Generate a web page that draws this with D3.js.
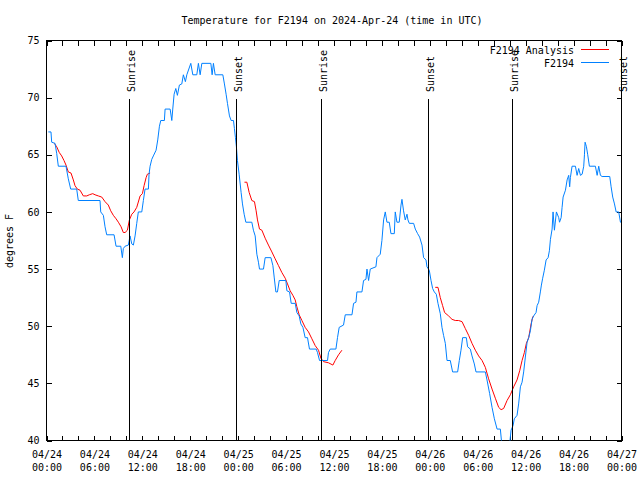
<!DOCTYPE html>
<html><head><meta charset="utf-8">
<script src="https://cdn.jsdelivr.net/npm/d3@7"></script>
<style>
html,body{margin:0;padding:0;background:#fff;}
svg{display:block;}
text{font-family:"DejaVu Sans Mono","Liberation Mono",monospace;font-size:10px;fill:#000;}
</style>
</head><body><svg id="c" width="640" height="480"></svg>
<script>
// ---- data (hours since 2024-04-24 00:00 UTC) ----
const startUTC = Date.UTC(2024, 3, 24, 0, 0);
const titleText = "Temperature for F2194 on 2024-Apr-24 (time in UTC)";
const yLabel = "degrees F";
const seriesNames = ["F2194 Analysis", "F2194"];
const seriesColors = ["#ff0000", "#0080ff"];
const yTicks = [40, 45, 50, 55, 60, 65, 70, 75];

const obsHours = [0.23,0.56,0.65,1.07,1.28,1.48,2.44,2.73,3.03,3.78,3.98,6.70,6.79,7.12,7.33,7.54,8.46,8.71,9.30,9.50,9.62,9.84,10.25,10.46,10.68,10.88,11.09,11.30,11.50,11.93,12.13,12.34,12.76,12.84,12.97,13.18,13.38,13.72,13.93,14.14,14.31,14.76,14.85,15.48,15.69,15.81,15.98,16.19,16.39,16.64,16.94,17.14,17.39,17.57,18.07,18.32,18.82,19.02,19.24,19.45,20.58,20.74,20.90,21.12,22.08,22.28,22.49,22.66,22.91,23.12,23.41,23.53,23.66,23.78,23.91,24.12,24.37,24.54,24.75,24.96,25.71,25.91,26.13,26.34,26.54,26.67,27.17,27.38,28.10,28.35,28.51,28.72,28.92,29.14,29.97,30.10,30.43,30.64,31.14,31.35,31.64,31.85,32.11,32.39,32.68,32.93,33.77,33.93,34.19,35.19,35.31,35.53,36.24,36.44,36.65,37.19,37.41,38.25,38.45,38.75,38.87,39.50,39.70,40.00,40.13,40.33,40.54,41.25,41.38,41.79,42.00,42.21,42.42,42.63,42.92,43.13,43.55,43.67,43.88,44.17,44.39,44.51,44.71,44.92,45.14,45.26,45.43,45.97,46.18,46.47,46.72,47.02,47.22,47.52,47.64,47.93,48.15,48.35,48.56,48.81,49.02,49.31,49.52,49.72,49.94,50.15,50.56,50.85,51.48,51.69,51.90,52.11,52.57,52.73,53.07,53.28,53.57,53.78,54.95,55.16,55.49,55.79,56.08,56.42,56.83,57.10,57.90,58.08,58.17,58.42,58.58,58.92,59.12,59.34,59.55,59.75,59.96,60.18,60.38,60.59,60.80,61.00,61.30,61.43,61.63,61.84,61.97,62.13,62.34,62.56,62.81,62.97,63.10,63.31,63.43,63.60,63.85,64.14,64.24,64.44,64.56,64.69,64.98,65.19,65.39,65.51,65.60,65.81,66.23,66.44,66.64,66.86,67.07,67.27,67.36,67.44,67.61,67.77,67.98,68.73,68.95,69.15,69.36,69.57,70.53,70.70,70.90,71.12,71.33,71.65,71.87,71.99];
const obsTemps = [67.0,67.0,66.1,66.0,65.1,64.0,64.0,62.9,62.0,62.0,61.0,61.0,60.0,59.7,58.7,58.0,58.0,57.0,57.0,56.0,56.8,57.0,57.1,57.9,57.2,57.1,57.9,59.0,60.0,60.0,61.0,62.0,62.0,63.3,64.0,64.6,64.9,65.4,66.3,67.5,68.0,68.0,69.0,69.0,68.0,69.0,70.3,70.8,70.2,71.1,71.2,72.0,71.4,72.0,73.0,72.0,72.0,73.0,72.0,73.0,73.0,72.0,73.0,72.0,72.0,71.2,70.3,69.5,68.4,68.0,68.0,67.3,66.5,65.7,64.5,63.3,61.7,60.7,59.8,59.1,59.1,58.4,57.9,56.3,55.6,55.0,55.0,56.0,56.0,55.3,54.3,53.0,53.0,54.0,54.0,53.1,53.0,52.0,52.0,51.2,50.9,50.2,49.9,49.0,49.0,48.0,48.0,47.7,47.0,47.0,47.7,48.0,48.0,49.0,49.9,50.1,51.0,51.0,52.0,52.1,53.0,53.0,54.0,54.1,55.0,54.0,55.0,55.2,56.0,56.3,57.5,59.3,60.0,59.1,59.1,58.1,58.1,60.0,59.1,59.1,60.6,61.1,60.1,59.3,59.8,59.3,59.0,59.0,58.5,58.1,57.8,57.1,56.0,55.8,55.2,54.9,54.0,53.3,53.0,52.8,52.0,51.1,49.9,49.2,48.5,47.0,47.0,46.0,46.0,47.0,47.9,49.0,49.0,48.2,48.0,47.4,46.7,46.0,46.0,45.3,44.1,42.9,41.9,41.0,41.0,39.0,39.0,40.3,40.9,41.3,41.9,42.2,43.2,44.7,45.1,46.0,47.3,48.6,49.0,49.6,50.6,50.9,51.2,51.8,52.1,53.0,53.6,54.2,54.9,55.8,56.0,56.6,57.6,58.5,60.0,58.4,60.0,59.5,59.1,59.5,60.4,61.3,61.9,62.8,63.2,62.2,63.0,64.0,64.0,63.2,63.8,63.2,63.3,64.0,65.0,66.1,65.7,65.0,64.0,64.0,63.2,64.0,63.2,63.1,63.1,62.2,61.3,60.7,60.0,60.0,59.1,59.1];

const anaHours1 = [0.98,1.28,1.60,1.90,2.19,2.44,2.73,3.07,3.36,3.57,3.86,4.20,4.61,5.04,5.36,5.79,6.08,6.49,6.92,7.33,7.74,8.04,8.37,8.71,9.00,9.34,9.62,9.84,10.13,10.38,10.68,10.96,11.30,11.72,12.01,12.22,12.47,12.63,12.97];
const anaTemps1 = [66.0,65.7,65.2,64.9,64.5,64.1,63.5,63.4,62.8,62.3,62.0,61.9,61.4,61.4,61.5,61.6,61.5,61.4,61.3,60.9,60.6,60.1,59.7,59.4,59.1,58.7,58.2,58.2,58.4,59.3,59.8,60.0,60.4,61.4,61.6,62.3,63.0,63.3,63.4];
const anaHours2 = [24.79,25.09,25.38,25.71,26.04,26.25,26.42,26.67,26.97,27.38,27.79,28.22,28.63,29.05,29.47,29.89,30.18,30.51,30.85,31.14,31.35,31.64,31.98,32.39,32.81,33.23,33.65,34.06,34.36,34.69,35.31,35.86,36.15,36.57,36.99];
const anaTemps2 = [62.6,62.6,61.7,61.0,60.9,60.1,59.3,58.5,58.4,57.7,57.1,56.5,55.9,55.3,54.7,54.2,53.7,53.1,52.7,52.3,51.7,51.0,50.5,49.9,49.5,48.9,48.3,47.9,47.2,46.9,46.8,46.6,47.0,47.5,47.9];
const anaHours3 = [48.68,49.02,49.31,49.60,49.85,50.35,50.78,51.19,51.60,52.03,52.44,52.86,53.28,53.70,54.11,54.54,54.95,55.36,55.79,56.20,56.62,56.92,57.24,57.67,58.08,58.50,58.92,59.25,59.55,59.84,60.09,60.38,60.68,60.88,61.00];
const anaTemps3 = [53.4,53.4,52.5,51.8,51.2,50.9,50.6,50.5,50.5,50.4,49.8,49.2,48.5,47.9,47.4,47.0,46.4,45.4,44.5,43.7,42.9,42.7,42.8,43.5,44.0,44.7,45.3,46.1,47.0,47.7,48.5,49.0,50.2,50.8,50.9];

const sunHours = [10.38, 23.78, 34.44, 47.85, 58.37, 71.97];
const sunLabels = ["Sunrise", "Sunset", "Sunrise", "Sunset", "Sunrise", "Sunset"];

// ---- drawing ----
const toDate = h => new Date(startUTC + h * 3600e3);
const zip = (hs, ts) => hs.map((h, i) => [toDate(h), ts[i]]);

const svg = d3.select("#c");
svg.append("rect").attr("width", 640).attr("height", 480).attr("fill", "#fff");

const L = 46.5, R = 621.5, T = 40.5, B = 440.5;
const x = d3.scaleUtc().domain([toDate(0), toDate(72)]).range([L, R]);
const y = d3.scaleLinear().domain([40, 75]).range([B, T]);

svg.append("defs").append("clipPath").attr("id", "clip")
  .append("rect").attr("x", L).attr("y", T).attr("width", R - L).attr("height", B - T);

// title
svg.append("text").attr("x", 332).attr("y", 24).attr("text-anchor", "middle").text(titleText);

// y label
svg.append("text").attr("transform", "translate(13,241) rotate(-90)")
  .attr("text-anchor", "middle").text(yLabel);

function styleAxis(g) {
  g.select(".domain").remove();
  g.selectAll("line").attr("stroke", "#000").attr("shape-rendering", "crispEdges");
  g.selectAll("text").attr("font-family", null).attr("font-size", null).attr("fill", "#000");
}

// x ticks (bottom & top, every 2 hours)
svg.append("g").attr("transform", `translate(0,${B})`)
  .call(d3.axisBottom(x).ticks(d3.utcHour.every(2)).tickSize(-5).tickFormat(""))
  .call(styleAxis);
svg.append("g").attr("transform", `translate(0,${T})`)
  .call(d3.axisTop(x).ticks(d3.utcHour.every(2)).tickSize(-5).tickFormat(""))
  .call(styleAxis);

// x labels every 6 hours (two lines)
const fmtDay = d3.utcFormat("%m/%d"), fmtTime = d3.utcFormat("%H:%M");
const xl = svg.append("g").attr("transform", `translate(0,${B})`)
  .call(d3.axisBottom(x).ticks(d3.utcHour.every(6)).tickSize(0).tickFormat(""))
  .call(styleAxis);
xl.selectAll(".tick text").attr("y", 0).attr("dy", null).each(function(d) {
  const t = d3.select(this);
  t.append("tspan").attr("x", 0).attr("y", 17.5).text(fmtDay(d));
  t.append("tspan").attr("x", 0).attr("y", 30.5).text(fmtTime(d));
});

// y ticks left & right
svg.append("g").attr("transform", `translate(${L},0)`)
  .call(d3.axisLeft(y).tickValues(yTicks).tickSize(-5).tickPadding(7).tickFormat(d3.format("d")))
  .call(styleAxis);
svg.append("g").attr("transform", `translate(${R},0)`)
  .call(d3.axisRight(y).tickValues(yTicks).tickSize(-5).tickFormat(""))
  .call(styleAxis);

// border
svg.append("rect").attr("x", L).attr("y", T).attr("width", R - L).attr("height", B - T)
  .attr("fill", "none").attr("stroke", "#000").attr("shape-rendering", "crispEdges");

// data lines
const line = d3.line().x(d => x(d[0])).y(d => y(d[1]));
const plot = svg.append("g").attr("clip-path", "url(#clip)");
[[anaHours1, anaTemps1], [anaHours2, anaTemps2], [anaHours3, anaTemps3]].forEach(([h, t]) => {
  plot.append("path").datum(zip(h, t)).attr("d", line)
    .attr("fill", "none").attr("stroke", seriesColors[0]).attr("stroke-width", 1);
});
plot.append("path").datum(zip(obsHours, obsTemps)).attr("d", line)
  .attr("fill", "none").attr("stroke", seriesColors[1]).attr("stroke-width", 1);

// sunrise / sunset markers
const sunTop = 99;
sunHours.forEach((h, i) => {
  const sx = Math.round(x(toDate(h)) - 0.5) + 0.5;
  svg.append("line").attr("x1", sx).attr("x2", sx).attr("y1", sunTop).attr("y2", B)
    .attr("stroke", "#000").attr("shape-rendering", "crispEdges");
  svg.append("text").attr("transform", `translate(${sx + 5},92) rotate(-90)`)
    .attr("text-anchor", "start").text(sunLabels[i]);
});

// legend
seriesNames.forEach((n, i) => {
  const ly = 49.5 + i * 13;
  svg.append("text").attr("x", 574).attr("y", ly + 4).attr("text-anchor", "end").text(n);
  svg.append("line").attr("x1", 581).attr("x2", 609).attr("y1", ly).attr("y2", ly)
    .attr("stroke", seriesColors[i]).attr("stroke-width", 1);
});
</script>
</body></html>
